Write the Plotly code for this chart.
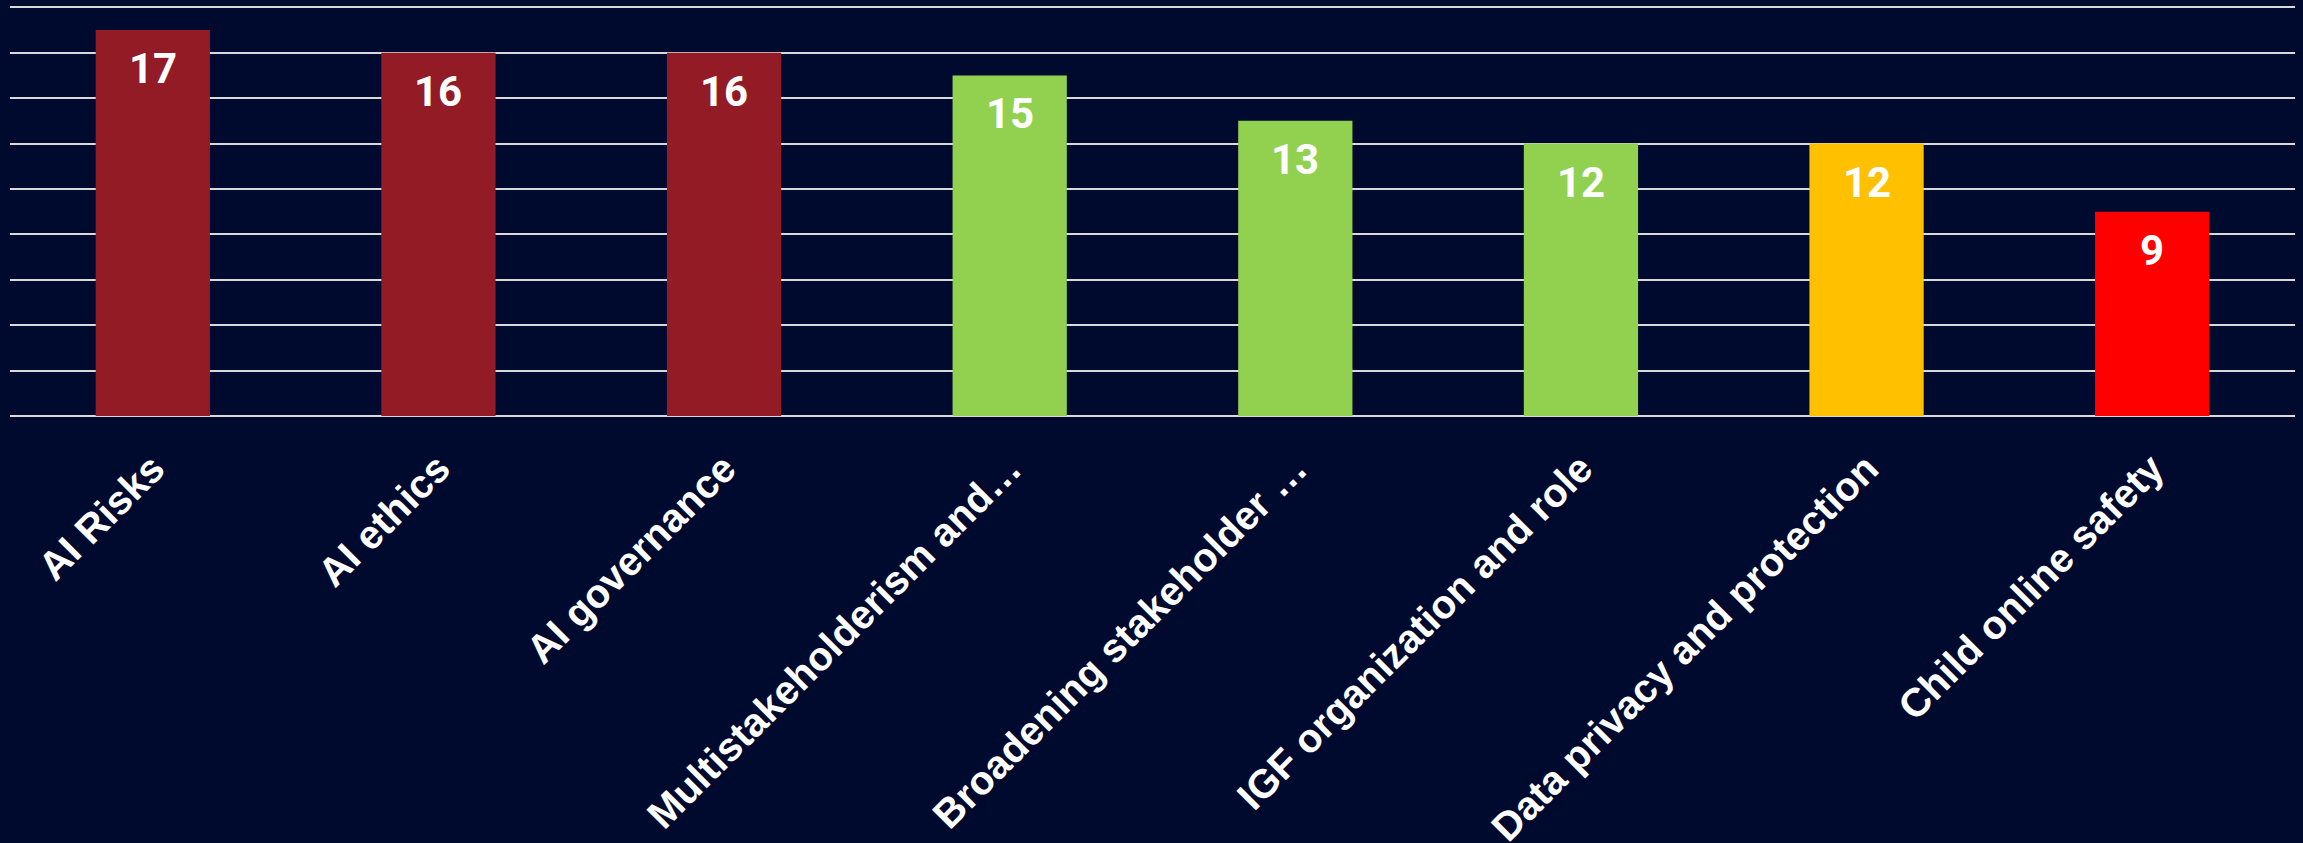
import plotly.graph_objects as go

categories = ["AI Risks", "AI ethics", "AI governance", "Multistakeholderism and…",
              "Broadening stakeholder …", "IGF organization and role",
              "Data privacy and protection", "Child online safety"]
values = [17, 16, 16, 15, 13, 12, 12, 9]
colors = ["#921B26", "#921B26", "#921B26", "#92D050", "#92D050", "#92D050", "#FFC000", "#FF0000"]
grid_values = [0, 2, 4, 6, 8, 10, 12, 14, 16, 18]

BG = "#000A2E"

fig = go.Figure(go.Bar(
    x=categories, y=values, marker=dict(color=colors, line=dict(width=0)),
    hoverinfo="x+y",
))
for c, v in zip(categories, values):
    fig.add_annotation(x=c, y=v, xref="x", yref="y", text=str(v), showarrow=False,
                       yanchor="top", yshift=-12,
                       font=dict(family="Roboto", size=42, color="white", weight="bold"))
fig.update_layout(
    width=2303, height=843,
    paper_bgcolor=BG, plot_bgcolor=BG,
    margin=dict(l=10, r=8, t=5, b=427, autoexpand=False),
    bargap=0.6, showlegend=False,
    xaxis=dict(tickangle=-45, tickfont=dict(family="Liberation Sans", size=40, color="white", weight="bold"),
               showgrid=False, showline=False, ticks="", ticklabelstandoff=20, automargin=False),
    yaxis=dict(range=[0, 18.1], tickmode="array", tickvals=grid_values, showticklabels=False, showgrid=True,
               gridcolor="#D9D9D9", gridwidth=1.5, zeroline=True, zerolinecolor="#D9D9D9",
               zerolinewidth=1.5, showline=False, automargin=False),
)
fig.write_html("out.html", config={"displayModeBar": False},
               post_script="document.body.style.margin='0';document.body.style.background='%s';document.body.style.overflow='hidden';" % BG)
